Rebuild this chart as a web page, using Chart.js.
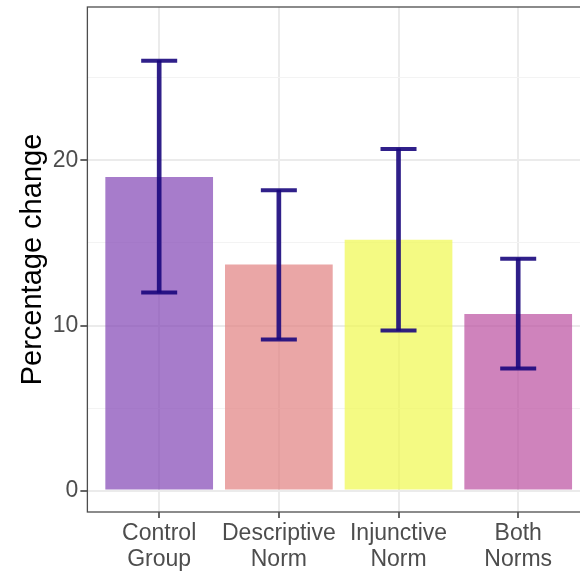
<!DOCTYPE html>
<html>
<head>
<meta charset="utf-8">
<script src="https://cdn.jsdelivr.net/npm/chart.js@4.4.1/dist/chart.umd.min.js"></script>
<style>
  html, body { margin: 0; padding: 0; background: #fff; overflow: hidden; }
  #wrap { width: 592px; height: 571px; }
</style>
</head>
<body>
<div id="wrap"><canvas id="myChart" width="592" height="571"></canvas></div>
<script>
// Données
const categories = [['Control', 'Group'], ['Descriptive', 'Norm'], ['Injunctive', 'Norm'], ['Both', 'Norms']];
const positions = [1, 2, 3, 4];
const moyennes = [19.0, 13.7, 15.2, 10.7];
const bornesBasses = [12.0, 9.15, 9.7, 7.4];
const bornesHautes = [26.05, 18.2, 20.7, 14.05];
const couleurs = ['rgba(129,69,181,0.7)', 'rgba(225,128,128,0.7)', 'rgba(239,248,79,0.7)', 'rgba(187,78,159,0.7)'];
const yTicks = [0, 5, 10, 15, 20, 25];
const yLabels = [0, 10, 20];

const couleurErreur = 'rgba(25,8,125,0.9)';

// Cadre du panneau (theme_bw)
const cadre = {
    id: 'cadre',
    afterDatasetsDraw(chart) {
        const a = chart.chartArea;
        const ctx = chart.ctx;
        ctx.save();
        ctx.strokeStyle = '#4D4D4D';
        ctx.lineWidth = 1.3;
        ctx.strokeRect(a.left, a.top, a.right - a.left, a.bottom - a.top);
        ctx.restore();
    }
};

const ctx = document.getElementById('myChart').getContext('2d');

const myChart = new Chart(ctx, {
    type: 'bar',
    data: {
        datasets: [
            {
                label: 'Moyenne',
                data: positions.map((p, i) => ({ x: p, y: moyennes[i] })),
                backgroundColor: couleurs,
                borderWidth: 0,
                categoryPercentage: 1,
                barPercentage: 0.9,
                grouped: false,
                order: 3
            },
            {
                label: 'Erreur',
                data: positions.map((p, i) => ({ x: p, y: [bornesBasses[i], bornesHautes[i]] })),
                backgroundColor: couleurErreur,
                borderWidth: 0,
                barThickness: 4,
                grouped: false,
                order: 2
            },
            {
                type: 'scatter',
                label: 'Bornes',
                data: positions.flatMap((p, i) => [{ x: p, y: bornesBasses[i] }, { x: p, y: bornesHautes[i] }]),
                pointStyle: 'line',
                pointRadius: 18,
                pointHoverRadius: 18,
                borderColor: couleurErreur,
                backgroundColor: couleurErreur,
                pointBorderWidth: 4,
                order: 1
            }
        ]
    },
    options: {
        responsive: false,
        animation: false,
        layout: { autoPadding: false, padding: { top: 7, right: 2, left: 16, bottom: 0 } },
        plugins: {
            legend: { display: false },
            tooltip: { enabled: false }
        },
        scales: {
            x: {
                type: 'linear',
                min: 0.4,
                max: 4.6,
                offset: false,
                afterBuildTicks: (scale) => { scale.ticks = positions.map(v => ({ value: v })); },
                afterFit: (scale) => { scale.height = 59; scale.paddingLeft = 0; scale.paddingRight = 0; },
                border: { display: false },
                grid: {
                    offset: false,
                    color: '#EBEBEB',
                    lineWidth: 2,
                    tickColor: '#333333',
                    tickWidth: 1.5,
                    tickLength: 6
                },
                ticks: {
                    color: '#4D4D4D',
                    padding: 3,
                    maxRotation: 0,
                    autoSkip: false,
                    font: { family: 'Liberation Sans, Arial, sans-serif', size: 23, lineHeight: 1.13 },
                    callback: (value) => categories[positions.indexOf(value)] || ''
                }
            },
            y: {
                min: -1.3,
                max: 29.3,
                afterBuildTicks: (scale) => { scale.ticks = yTicks.map(v => ({ value: v })); },
                afterFit: (scale) => { scale.paddingTop = 0; scale.paddingBottom = 0; },
                border: { display: false },
                grid: {
                    color: (c) => yLabels.includes(c.tick && c.tick.value) ? '#EBEBEB' : '#F3F3F3',
                    lineWidth: (c) => yLabels.includes(c.tick && c.tick.value) ? 2 : 1,
                    tickColor: (c) => yLabels.includes(c.tick && c.tick.value) ? '#333333' : 'rgba(0,0,0,0)',
                    tickWidth: 1.5,
                    tickLength: 7
                },
                ticks: {
                    color: '#4D4D4D',
                    padding: 2,
                    font: { family: 'Liberation Sans, Arial, sans-serif', size: 23 },
                    callback: (value) => yLabels.includes(value) ? String(value) : ''
                },
                title: {
                    display: true,
                    text: 'Percentage change',
                    color: '#000000',
                    padding: 0,
                    font: { family: 'Liberation Sans, Arial, sans-serif', size: 29 }
                }
            }
        }
    },
    plugins: [cadre]
});
</script>
</body>
</html>
